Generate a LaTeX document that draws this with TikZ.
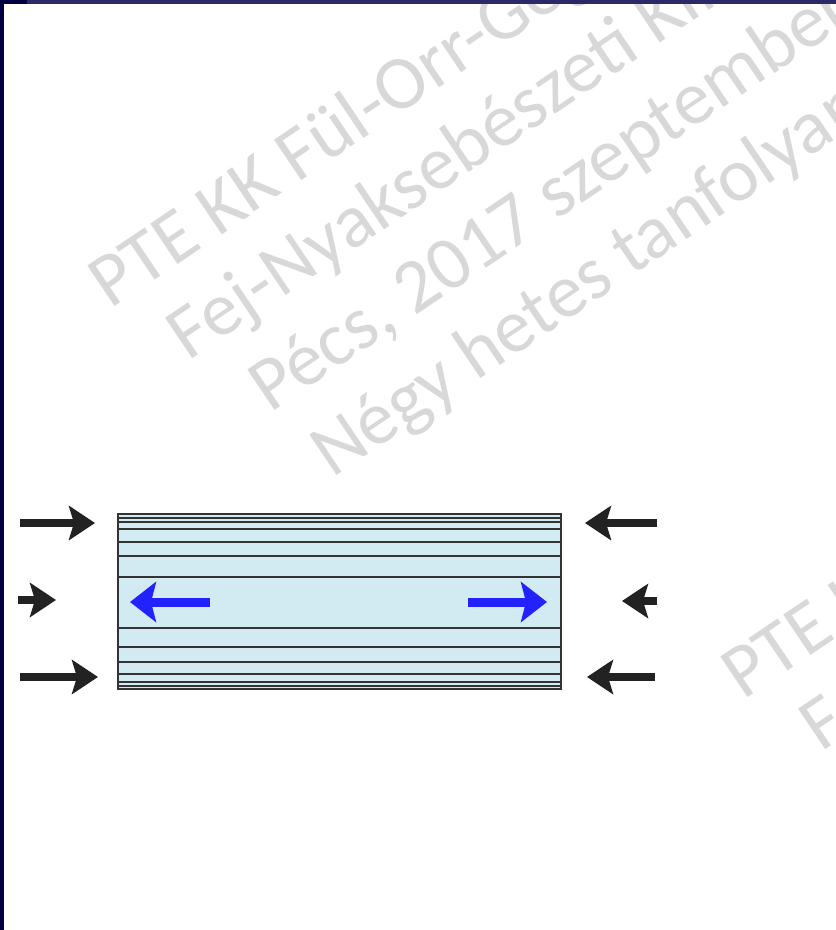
\documentclass[tikz,border=0pt]{standalone}
\usepackage{fontspec}
\setmainfont{Carlito}
\usetikzlibrary{arrows.meta}
\definecolor{navy}{HTML}{000040}
\definecolor{navytop}{HTML}{2A2A68}
\definecolor{wm}{HTML}{D8D8D8}
\definecolor{tube}{HTML}{D2EAF2}
\definecolor{edge}{HTML}{333333}
\definecolor{flow}{HTML}{2222FF}
\definecolor{push}{HTML}{222222}
\begin{document}
\begin{tikzpicture}[x=1pt,y=-1pt,
  wmtext/.style={text=wm, font=\fontsize{76}{90}\selectfont, rotate=34, anchor=base west, inner sep=0pt},
  pusharrow/.style={draw=push, line width=8pt, -{Stealth[length=26pt,width=34pt,inset=5pt]}},
  flowarrow/.style={draw=flow, line width=9pt, -{Stealth[length=26pt,width=40pt,inset=5pt]}},
  layer/.style={draw=edge, line width=2.4pt}]
\useasboundingbox (0,0) rectangle (836,930);
\clip (0,0) rectangle (836,930);
\fill[white] (0,0) rectangle (836,930);
% watermark blocks
\foreach \dx/\dy/\k in {0/0/a, 633/391/b} {
  \begin{scope}[shift={(\dx,\dy)}]
    \node[wmtext] (wm1\k) at (110,310) {PTE KK Fül-Orr-Gégészeti és};
    \node[wmtext] (wm2\k) at (188,362) {Fej-Nyaksebészeti Klinika};
    \node[wmtext] (wm3\k) at (270,414) {Pécs, 2017 szeptember};
    \node[wmtext] (wm4\k) at (332,479) {Négy hetes tanfolyam};
  \end{scope}
}
% frame strips
\fill[navy] (0,0) rectangle (4,930);
\fill[navy] (0,0) rectangle (27,4);
\fill[navytop] (27,0) rectangle (836,4);
% tube
\fill[tube] (118,514) rectangle (561,689);
\foreach \yy in {518,522,529,542,556,577,628,647,662,674,682,686} {
  \draw[layer] (118,\yy) -- (561,\yy);
}
\draw[layer] (118,514) rectangle (561,689);
% coordinates
\coordinate (la1) at (20,523);  \coordinate (lb1) at (95,523);
\coordinate (la2) at (18,600);  \coordinate (lb2) at (56,600);
\coordinate (la3) at (20,677);  \coordinate (lb3) at (98,677);
\coordinate (ra1) at (657,523); \coordinate (rb1) at (585,523);
\coordinate (ra2) at (657,601); \coordinate (rb2) at (622,601);
\coordinate (ra3) at (655,677); \coordinate (rb3) at (587,677);
\coordinate (fa1) at (210,602); \coordinate (fb1) at (130,602);
\coordinate (fa2) at (468,602); \coordinate (fb2) at (547,602);
% push arrows
\draw[pusharrow] (la1) -- (lb1);
\draw[pusharrow] (la2) -- (lb2);
\draw[pusharrow] (la3) -- (lb3);
\draw[pusharrow] (ra1) -- (rb1);
\draw[pusharrow] (ra2) -- (rb2);
\draw[pusharrow] (ra3) -- (rb3);
% flow arrows
\draw[flowarrow] (fa1) -- (fb1);
\draw[flowarrow] (fa2) -- (fb2);
\end{tikzpicture}
\end{document}
